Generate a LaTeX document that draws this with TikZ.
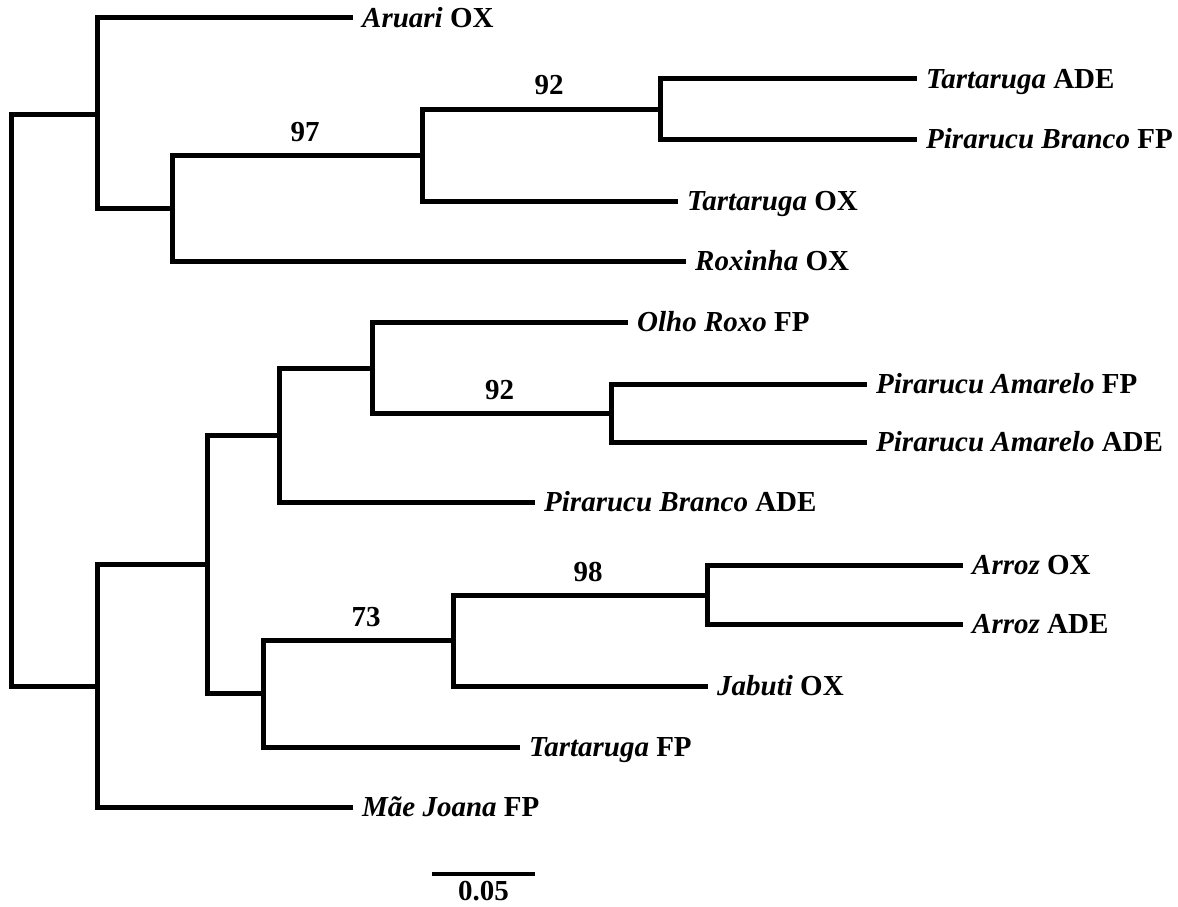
\documentclass[tikz,border=0pt]{standalone}
\usepackage{fontspec}
\setmainfont{Liberation Serif}
\usetikzlibrary{positioning}

\begin{document}
\begin{tikzpicture}[
    x=1pt, y=-1pt,
    branch/.style={line width=5pt, line join=miter},
    taxon/.style={anchor=base west, inner sep=0pt, xshift=9pt, yshift=-9.5pt, font=\fontsize{29}{34}\selectfont\bfseries},
    boot/.style={pos=0.75, anchor=base, inner sep=0pt, xshift=8pt, yshift=14pt, font=\fontsize{29}{34}\selectfont\bfseries},
]
\useasboundingbox (0,0) rectangle (1178,907);

% internal nodes
\coordinate (root) at (11,400);
\coordinate (nA) at (97,114);
\coordinate (nB) at (172,208);
\coordinate (nC) at (422,155);
\coordinate (nD) at (660,109);
\coordinate (nE) at (97,686);
\coordinate (nF) at (207,564);
\coordinate (nG) at (279,435);
\coordinate (nH) at (263,693);
\coordinate (nI) at (372,368);
\coordinate (nJ) at (611,413);
\coordinate (nK) at (453,640);
\coordinate (nL) at (707,595);

% leaves
\coordinate (aruari) at (353,18);
\coordinate (tartADE) at (917,79);
\coordinate (piraBFP) at (917,139);
\coordinate (tartOX) at (678,201);
\coordinate (roxinha) at (686,261);
\coordinate (olho) at (628,322);
\coordinate (piraAFP) at (867,384);
\coordinate (piraAADE) at (867,442);
\coordinate (piraBADE) at (535,502);
\coordinate (arrozOX) at (963,565);
\coordinate (arrozADE) at (963,624);
\coordinate (jabuti) at (708,686);
\coordinate (tartFP) at (520,747);
\coordinate (maeJoana) at (353,807);

\node[taxon] (aruariL) at (aruari) {\textit{Aruari} OX};
\node[taxon] (tartADEL) at (tartADE) {\textit{Tartaruga} ADE};
\node[taxon] (piraBFPL) at (piraBFP) {\textit{Pirarucu Branco} FP};
\node[taxon] (tartOXL) at (tartOX) {\textit{Tartaruga} OX};
\node[taxon] (roxinhaL) at (roxinha) {\textit{Roxinha} OX};
\node[taxon] (olhoL) at (olho) {\textit{Olho Roxo} FP};
\node[taxon] (piraAFPL) at (piraAFP) {\textit{Pirarucu Amarelo} FP};
\node[taxon] (piraAADEL) at (piraAADE) {\textit{Pirarucu Amarelo} ADE};
\node[taxon] (piraBADEL) at (piraBADE) {\textit{Pirarucu Branco} ADE};
\node[taxon] (arrozOXL) at (arrozOX) {\textit{Arroz} OX};
\node[taxon] (arrozADEL) at (arrozADE) {\textit{Arroz} ADE};
\node[taxon] (jabutiL) at (jabuti) {\textit{Jabuti} OX};
\node[taxon] (tartFPL) at (tartFP) {\textit{Tartaruga} FP};
\node[taxon] (maeJoanaL) at (maeJoana) {\textit{Mãe Joana} FP};

% branches
\draw[branch] (root) |- (nA);
\draw[branch] (root) |- (nE);
\draw[branch] (nA) |- (aruari);
\draw[branch] (nA) |- (nB);
\draw[branch] (nB) |- node[boot]{97} (nC);
\draw[branch] (nB) |- (roxinha);
\draw[branch] (nC) |- node[boot]{92} (nD);
\draw[branch] (nC) |- (tartOX);
\draw[branch] (nD) |- (tartADE);
\draw[branch] (nD) |- (piraBFP);
\draw[branch] (nE) |- (nF);
\draw[branch] (nE) |- (maeJoana);
\draw[branch] (nF) |- (nG);
\draw[branch] (nF) |- (nH);
\draw[branch] (nG) |- (nI);
\draw[branch] (nG) |- (piraBADE);
\draw[branch] (nI) |- (olho);
\draw[branch] (nI) |- node[boot]{92} (nJ);
\draw[branch] (nJ) |- (piraAFP);
\draw[branch] (nJ) |- (piraAADE);
\draw[branch] (nH) |- node[boot]{73} (nK);
\draw[branch] (nH) |- (tartFP);
\draw[branch] (nK) |- node[boot]{98} (nL);
\draw[branch] (nK) |- (jabuti);
\draw[branch] (nL) |- (arrozOX);
\draw[branch] (nL) |- (arrozADE);

% scale bar
\coordinate (barL) at (432,874);
\coordinate (barR) at (535,874);
\draw[line width=4pt] (barL) -- node[below=5pt, inner sep=0pt, font=\fontsize{29}{34}\selectfont\bfseries] (barLbl) {0.05} (barR);
\end{tikzpicture}
\end{document}
